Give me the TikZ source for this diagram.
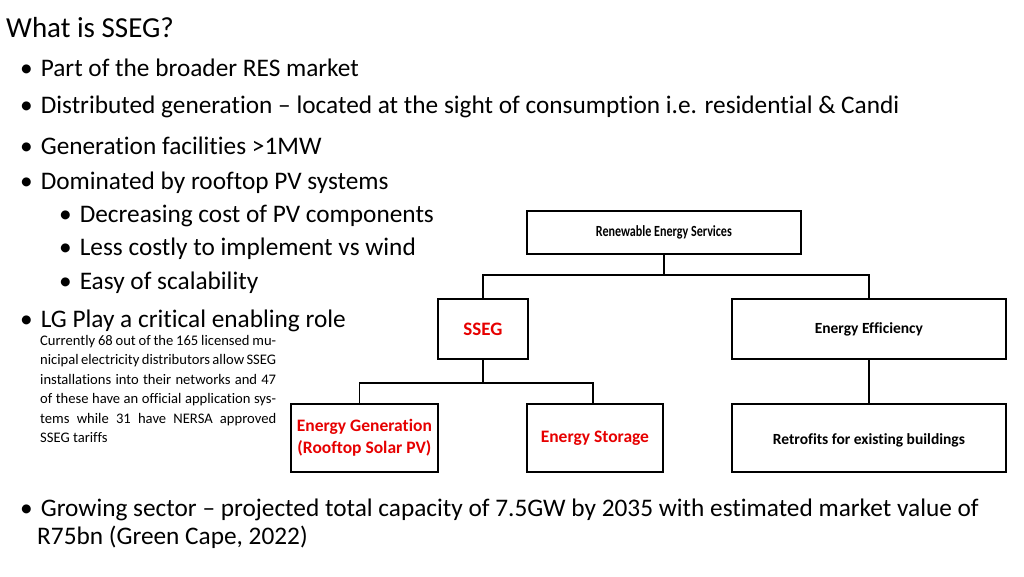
\documentclass[tikz,border=0pt]{standalone}
\usepackage{fontspec}
\setmainfont[Ligatures=NoCommon]{Carlito}
\begin{document}
\begin{tikzpicture}[x=1pt,y=-1pt,
  box/.style={draw,line width=1.8pt,anchor=north west,inner sep=0pt},
  lab/.style={font=\bfseries\fontsize{15.5}{18}\selectfont,align=center},
  red/.style={text={rgb,255:red,230;green,0;blue,0}},
  conn/.style={line width=1.8pt},
  bul/.style={anchor=west,font=\fontsize{25.3}{30}\selectfont,inner sep=0pt}]
\useasboundingbox (0,0) rectangle (1024,576);
\node[anchor=west,inner sep=0pt,font=\fontsize{29}{33}\selectfont] (title) at (6,28) {What is SSEG?};
\node[bul] (b1) at (20,68) {\textbullet\hspace{8pt}Part of the broader RES market};
\node[bul] (b2) at (20,107) {\textbullet\hspace{8pt}Distributed generation -- located at the sight of consumption i.e. residential \& Candi};
\node[bul] (b3) at (20,146) {\textbullet\hspace{8pt}Generation facilities >1MW};
\node[bul] (b4) at (20,183) {\textbullet\hspace{8pt}Dominated by rooftop PV systems};
\node[bul] (b5) at (59,216) {\textbullet\hspace{8pt}Decreasing cost of PV components};
\node[bul] (b6) at (59,249) {\textbullet\hspace{8pt}Less costly to implement vs wind};
\node[bul] (b7) at (59,283) {\textbullet\hspace{8pt}Easy of scalability};
\node[bul] (b8) at (20,321) {\textbullet\hspace{8pt}LG Play a critical enabling role};
\node[anchor=north west,inner sep=0pt,text width=236pt,align=justify,font=\fontsize{14.6}{19.5}\selectfont] (para) at (40,335) {\hyphenpenalty=10000 \exhyphenpenalty=10000 Currently 68 out of the 165 licensed municipal electricity distributors allow SSEG installations into their networks and 47 of these have an official application systems while 31 have NERSA approved SSEG tariffs};
\node[inner sep=0pt,text width=985pt,align=justify,font=\fontsize{25.3}{28}\selectfont,anchor=north west] (b9) at (20,499) {\textbullet\hspace{8pt}Growing sector -- projected total capacity of 7.5GW by 2035 with estimated market value of\\\hspace*{17pt}R75bn (Green Cape, 2022)};

\node[box,minimum width=274pt,minimum height=43pt] (res) at (526,210) {};
\node[lab,font=\bfseries\fontsize{15.5}{18}\selectfont\addfontfeatures{FakeStretch=0.78}] at (res.center) {Renewable Energy Services};
\node[box,minimum width=90pt,minimum height=60pt] (sseg) at (437,298) {};
\node[lab,red,font=\bfseries\fontsize{19}{22}\selectfont] at (sseg.center) {SSEG};
\node[box,minimum width=274pt,minimum height=60pt] (ee) at (731,298) {};
\node[lab] at (ee.center) {Energy Efficiency};
\node[box,minimum width=147pt,minimum height=68pt] (eg) at (290,403) {};
\node[lab,red,font=\bfseries\fontsize{17.5}{22}\selectfont] at (eg.center) {Energy Generation\\(Rooftop Solar PV)};
\node[box,minimum width=136pt,minimum height=68pt] (es) at (526,403) {};
\node[lab,red,font=\bfseries\fontsize{17.5}{20}\selectfont] at (es.center) {Energy Storage};
\node[box,minimum width=274pt,minimum height=68pt] (rf) at (731,403) {};
\node[lab] at ([yshift=-2pt]rf.center) {Retrofits for existing buildings};

\draw[conn] (res.south) -- ++(0,20) -| (sseg.north);
\draw[conn] (res.south) -- ++(0,20) -| (ee.north);
\draw[conn] (sseg.south) -- ++(0,23) -| ([xshift=-5pt]eg.north);
\draw[conn] (sseg.south) -- ++(0,23) -| ([xshift=-2pt]es.north);
\draw[conn] (ee.south) -- (rf.north);
\end{tikzpicture}
\end{document}
